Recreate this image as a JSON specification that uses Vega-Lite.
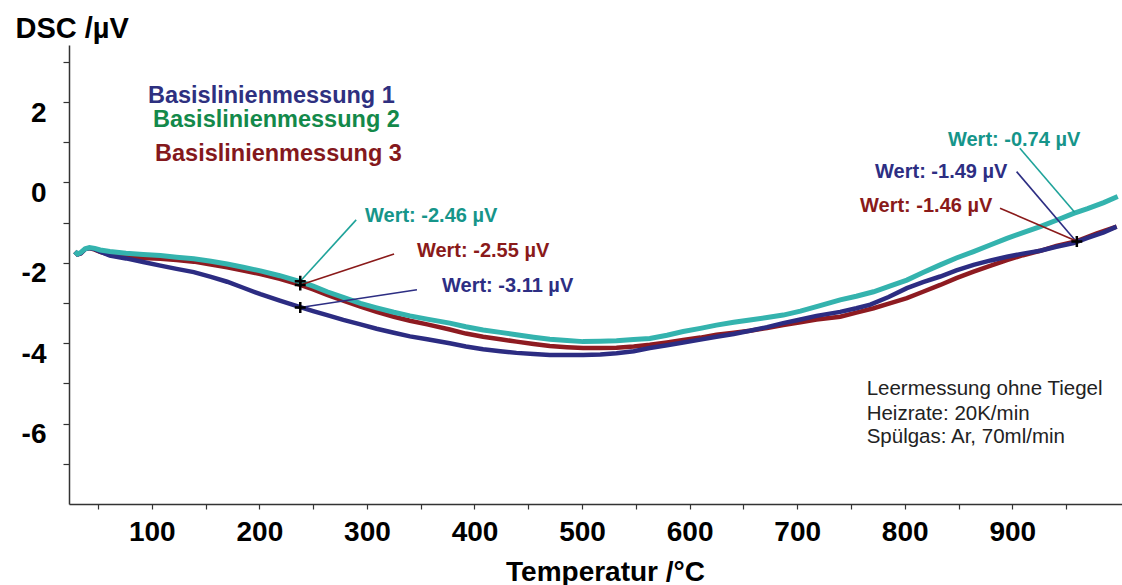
{
  "$schema": "https://vega.github.io/schema/vega-lite/v6.json",
  "width": 1053,
  "height": 459,
  "autosize": {"type": "none"},
  "padding": {"left": 69, "top": 45, "right": 0, "bottom": 81},
  "background": "white",
  "config": {"view": {"stroke": null}, "font": "Liberation Sans"},
  "datasets": {
    "curves": [
      {"T":28.5,"DSC":-1.72,"M":"1"},{"T":31,"DSC":-1.79,"M":"1"},{"T":34,"DSC":-1.76,"M":"1"},{"T":38,"DSC":-1.66,"M":"1"},{"T":42,"DSC":-1.63,"M":"1"},{"T":47,"DSC":-1.66,"M":"1"},{"T":52,"DSC":-1.72,"M":"1"},{"T":61,"DSC":-1.82,"M":"1"},{"T":76,"DSC":-1.89,"M":"1"},{"T":92,"DSC":-1.98,"M":"1"},{"T":108,"DSC":-2.07,"M":"1"},{"T":123,"DSC":-2.15,"M":"1"},{"T":139,"DSC":-2.23,"M":"1"},{"T":155,"DSC":-2.35,"M":"1"},{"T":170,"DSC":-2.47,"M":"1"},{"T":185,"DSC":-2.62,"M":"1"},{"T":201,"DSC":-2.78,"M":"1"},{"T":219,"DSC":-2.94,"M":"1"},{"T":238,"DSC":-3.10,"M":"1"},{"T":250,"DSC":-3.20,"M":"1"},{"T":263,"DSC":-3.30,"M":"1"},{"T":278,"DSC":-3.42,"M":"1"},{"T":294,"DSC":-3.53,"M":"1"},{"T":309,"DSC":-3.64,"M":"1"},{"T":325,"DSC":-3.74,"M":"1"},{"T":340,"DSC":-3.83,"M":"1"},{"T":356,"DSC":-3.90,"M":"1"},{"T":377,"DSC":-4.00,"M":"1"},{"T":392,"DSC":-4.08,"M":"1"},{"T":408,"DSC":-4.15,"M":"1"},{"T":424,"DSC":-4.20,"M":"1"},{"T":439,"DSC":-4.24,"M":"1"},{"T":455,"DSC":-4.27,"M":"1"},{"T":470,"DSC":-4.29,"M":"1"},{"T":486,"DSC":-4.29,"M":"1"},{"T":501,"DSC":-4.29,"M":"1"},{"T":517,"DSC":-4.28,"M":"1"},{"T":532,"DSC":-4.25,"M":"1"},{"T":548,"DSC":-4.20,"M":"1"},{"T":563,"DSC":-4.12,"M":"1"},{"T":579,"DSC":-4.05,"M":"1"},{"T":594,"DSC":-3.98,"M":"1"},{"T":610,"DSC":-3.91,"M":"1"},{"T":625,"DSC":-3.84,"M":"1"},{"T":641,"DSC":-3.77,"M":"1"},{"T":656,"DSC":-3.69,"M":"1"},{"T":672,"DSC":-3.60,"M":"1"},{"T":687,"DSC":-3.50,"M":"1"},{"T":703,"DSC":-3.41,"M":"1"},{"T":718,"DSC":-3.32,"M":"1"},{"T":740,"DSC":-3.22,"M":"1"},{"T":755,"DSC":-3.13,"M":"1"},{"T":768,"DSC":-3.04,"M":"1"},{"T":785,"DSC":-2.85,"M":"1"},{"T":802,"DSC":-2.63,"M":"1"},{"T":817,"DSC":-2.48,"M":"1"},{"T":833,"DSC":-2.34,"M":"1"},{"T":848,"DSC":-2.19,"M":"1"},{"T":864,"DSC":-2.05,"M":"1"},{"T":880,"DSC":-1.94,"M":"1"},{"T":895,"DSC":-1.85,"M":"1"},{"T":910,"DSC":-1.77,"M":"1"},{"T":926,"DSC":-1.70,"M":"1"},{"T":941,"DSC":-1.60,"M":"1"},{"T":957,"DSC":-1.51,"M":"1"},{"T":970,"DSC":-1.38,"M":"1"},{"T":985,"DSC":-1.24,"M":"1"},{"T":997,"DSC":-1.10,"M":"1"},
      {"T":28.5,"DSC":-1.72,"M":"3"},{"T":31,"DSC":-1.79,"M":"3"},{"T":34,"DSC":-1.76,"M":"3"},{"T":38,"DSC":-1.66,"M":"3"},{"T":42,"DSC":-1.63,"M":"3"},{"T":47,"DSC":-1.67,"M":"3"},{"T":52,"DSC":-1.73,"M":"3"},{"T":61,"DSC":-1.80,"M":"3"},{"T":76,"DSC":-1.85,"M":"3"},{"T":92,"DSC":-1.88,"M":"3"},{"T":108,"DSC":-1.90,"M":"3"},{"T":123,"DSC":-1.93,"M":"3"},{"T":139,"DSC":-1.97,"M":"3"},{"T":155,"DSC":-2.04,"M":"3"},{"T":170,"DSC":-2.11,"M":"3"},{"T":185,"DSC":-2.19,"M":"3"},{"T":201,"DSC":-2.28,"M":"3"},{"T":219,"DSC":-2.40,"M":"3"},{"T":238,"DSC":-2.55,"M":"3"},{"T":250,"DSC":-2.66,"M":"3"},{"T":263,"DSC":-2.80,"M":"3"},{"T":278,"DSC":-2.94,"M":"3"},{"T":294,"DSC":-3.09,"M":"3"},{"T":309,"DSC":-3.22,"M":"3"},{"T":325,"DSC":-3.34,"M":"3"},{"T":340,"DSC":-3.44,"M":"3"},{"T":356,"DSC":-3.53,"M":"3"},{"T":377,"DSC":-3.66,"M":"3"},{"T":392,"DSC":-3.76,"M":"3"},{"T":408,"DSC":-3.84,"M":"3"},{"T":424,"DSC":-3.90,"M":"3"},{"T":439,"DSC":-3.96,"M":"3"},{"T":455,"DSC":-4.02,"M":"3"},{"T":470,"DSC":-4.07,"M":"3"},{"T":486,"DSC":-4.10,"M":"3"},{"T":501,"DSC":-4.12,"M":"3"},{"T":517,"DSC":-4.12,"M":"3"},{"T":532,"DSC":-4.11,"M":"3"},{"T":548,"DSC":-4.08,"M":"3"},{"T":563,"DSC":-4.04,"M":"3"},{"T":579,"DSC":-3.98,"M":"3"},{"T":594,"DSC":-3.92,"M":"3"},{"T":610,"DSC":-3.86,"M":"3"},{"T":625,"DSC":-3.79,"M":"3"},{"T":641,"DSC":-3.74,"M":"3"},{"T":656,"DSC":-3.69,"M":"3"},{"T":672,"DSC":-3.62,"M":"3"},{"T":687,"DSC":-3.55,"M":"3"},{"T":703,"DSC":-3.48,"M":"3"},{"T":718,"DSC":-3.41,"M":"3"},{"T":740,"DSC":-3.34,"M":"3"},{"T":755,"DSC":-3.24,"M":"3"},{"T":771,"DSC":-3.13,"M":"3"},{"T":786,"DSC":-3.01,"M":"3"},{"T":802,"DSC":-2.88,"M":"3"},{"T":817,"DSC":-2.72,"M":"3"},{"T":833,"DSC":-2.55,"M":"3"},{"T":848,"DSC":-2.38,"M":"3"},{"T":864,"DSC":-2.22,"M":"3"},{"T":880,"DSC":-2.07,"M":"3"},{"T":895,"DSC":-1.93,"M":"3"},{"T":910,"DSC":-1.81,"M":"3"},{"T":926,"DSC":-1.70,"M":"3"},{"T":941,"DSC":-1.58,"M":"3"},{"T":960,"DSC":-1.46,"M":"3"},{"T":978,"DSC":-1.27,"M":"3"},{"T":997,"DSC":-1.10,"M":"3"},
      {"T":28.5,"DSC":-1.72,"M":"2"},{"T":31,"DSC":-1.78,"M":"2"},{"T":34,"DSC":-1.74,"M":"2"},{"T":38,"DSC":-1.65,"M":"2"},{"T":42,"DSC":-1.62,"M":"2"},{"T":47,"DSC":-1.64,"M":"2"},{"T":52,"DSC":-1.68,"M":"2"},{"T":61,"DSC":-1.72,"M":"2"},{"T":76,"DSC":-1.76,"M":"2"},{"T":92,"DSC":-1.79,"M":"2"},{"T":108,"DSC":-1.82,"M":"2"},{"T":123,"DSC":-1.86,"M":"2"},{"T":139,"DSC":-1.90,"M":"2"},{"T":155,"DSC":-1.96,"M":"2"},{"T":170,"DSC":-2.03,"M":"2"},{"T":185,"DSC":-2.11,"M":"2"},{"T":201,"DSC":-2.20,"M":"2"},{"T":219,"DSC":-2.32,"M":"2"},{"T":238,"DSC":-2.47,"M":"2"},{"T":250,"DSC":-2.58,"M":"2"},{"T":263,"DSC":-2.72,"M":"2"},{"T":278,"DSC":-2.86,"M":"2"},{"T":294,"DSC":-3.01,"M":"2"},{"T":309,"DSC":-3.12,"M":"2"},{"T":325,"DSC":-3.23,"M":"2"},{"T":340,"DSC":-3.32,"M":"2"},{"T":356,"DSC":-3.40,"M":"2"},{"T":377,"DSC":-3.50,"M":"2"},{"T":392,"DSC":-3.59,"M":"2"},{"T":408,"DSC":-3.67,"M":"2"},{"T":424,"DSC":-3.73,"M":"2"},{"T":439,"DSC":-3.79,"M":"2"},{"T":455,"DSC":-3.85,"M":"2"},{"T":470,"DSC":-3.90,"M":"2"},{"T":486,"DSC":-3.93,"M":"2"},{"T":501,"DSC":-3.96,"M":"2"},{"T":517,"DSC":-3.95,"M":"2"},{"T":532,"DSC":-3.94,"M":"2"},{"T":548,"DSC":-3.91,"M":"2"},{"T":563,"DSC":-3.88,"M":"2"},{"T":579,"DSC":-3.80,"M":"2"},{"T":594,"DSC":-3.71,"M":"2"},{"T":610,"DSC":-3.63,"M":"2"},{"T":625,"DSC":-3.55,"M":"2"},{"T":641,"DSC":-3.48,"M":"2"},{"T":656,"DSC":-3.42,"M":"2"},{"T":672,"DSC":-3.36,"M":"2"},{"T":687,"DSC":-3.30,"M":"2"},{"T":703,"DSC":-3.20,"M":"2"},{"T":718,"DSC":-3.09,"M":"2"},{"T":740,"DSC":-2.92,"M":"2"},{"T":755,"DSC":-2.83,"M":"2"},{"T":771,"DSC":-2.72,"M":"2"},{"T":786,"DSC":-2.58,"M":"2"},{"T":802,"DSC":-2.43,"M":"2"},{"T":817,"DSC":-2.24,"M":"2"},{"T":833,"DSC":-2.05,"M":"2"},{"T":848,"DSC":-1.88,"M":"2"},{"T":864,"DSC":-1.72,"M":"2"},{"T":880,"DSC":-1.55,"M":"2"},{"T":895,"DSC":-1.39,"M":"2"},{"T":910,"DSC":-1.25,"M":"2"},{"T":926,"DSC":-1.10,"M":"2"},{"T":941,"DSC":-0.94,"M":"2"},{"T":957,"DSC":-0.77,"M":"2"},{"T":970,"DSC":-0.65,"M":"2"},{"T":985,"DSC":-0.50,"M":"2"},{"T":998,"DSC":-0.35,"M":"2"}
    ],
    "leaders": [
      {"T":238,"DSC":-3.11,"T2":346.5,"DSC2":-2.67,"M":"1"},
      {"T":238,"DSC":-2.55,"T2":325.2,"DSC2":-1.78,"M":"3"},
      {"T":238,"DSC":-2.46,"T2":290,"DSC2":-0.93,"M":"2"},
      {"T":958,"DSC":-0.74,"T2":907,"DSC2":0.85,"M":"2"},
      {"T":960,"DSC":-1.49,"T2":904,"DSC2":0.27,"M":"1"},
      {"T":960,"DSC":-1.46,"T2":888.6,"DSC2":-0.64,"M":"3"}
    ],
    "crosses": [
      {"T":238,"DSC":-2.46},{"T":238,"DSC":-2.55},{"T":238,"DSC":-3.11},{"T":960,"DSC":-1.47}
    ],
    "wert": [
      {"T":298.2,"DSC":-0.83,"M":"2","text":"Wert: -2.46 µV"},
      {"T":346.5,"DSC":-1.70,"M":"3","text":"Wert: -2.55 µV"},
      {"T":369.8,"DSC":-2.575,"M":"1","text":"Wert: -3.11 µV"},
      {"T":840.2,"DSC":1.06,"M":"2","text":"Wert: -0.74 µV"},
      {"T":772.4,"DSC":0.27,"M":"1","text":"Wert: -1.49 µV"},
      {"T":758.4,"DSC":-0.585,"M":"3","text":"Wert: -1.46 µV"}
    ],
    "legend": [
      {"T":96.4,"DSC":1.985,"M":"1","text":"Basislinienmessung 1"},
      {"T":101.1,"DSC":1.373,"M":"2","text":"Basislinienmessung 2"},
      {"T":103.0,"DSC":0.542,"M":"3","text":"Basislinienmessung 3"}
    ],
    "notes": [
      {"T":764.6,"DSC":-5.29,"text":"Leermessung ohne Tiegel"},
      {"T":764.6,"DSC":-5.91,"text":"Heizrate: 20K/min"},
      {"T":764.6,"DSC":-6.49,"text":"Spülgas: Ar, 70ml/min"}
    ]
  },
  "layer": [
    {
      "data": {"name": "curves"},
      "transform": [{"filter": "datum.M == '3'"}],
      "mark": {"type": "line", "color": "#8e1b21", "strokeWidth": 4.5},
      "encoding": {
        "x": {
          "field": "T", "type": "quantitative",
          "scale": {"domain": [23, 1002], "nice": false, "zero": false},
          "axis": {
            "title": "Temperatur /°C", "titleFontSize": 28, "titleFontWeight": "bold", "titleColor": "black",
            "titleX": 536, "titleY": 76, "titleAlign": "center", "titleBaseline": "alphabetic",
            "values": [50,75,100,125,150,175,200,225,250,275,300,325,350,375,400,425,450,475,500,525,550,575,600,625,650,675,700,725,750,775,800,825,850,875,900,925,950,975],
            "labelExpr": "datum.value % 100 == 0 ? '' + datum.value : ''",
            "labelFontSize": 28, "labelFontWeight": "bold", "labelColor": "black", "labelPadding": 9,
            "labelFlush": false, "labelOverlap": false, "labelBound": false,
            "tickSize": 5, "tickColor": "#333333", "tickWidth": 1.2,
            "domainColor": "#333333", "domainWidth": 1.5, "grid": false
          }
        },
        "y": {
          "field": "DSC", "type": "quantitative",
          "scale": {"domain": [-8, 3.42], "nice": false, "zero": false},
          "axis": {
            "title": "DSC /µV", "titleFontSize": 29, "titleFontWeight": "bold", "titleColor": "black",
            "titleAngle": 0, "titleX": -54, "titleY": -8, "titleAlign": "left", "titleBaseline": "alphabetic",
            "values": [-7,-6,-5,-4,-3,-2,-1,0,1,2,3],
            "labelExpr": "datum.value % 2 == 0 ? (datum.value < 0 ? '-' + abs(datum.value) : '' + datum.value) : ''",
            "labelFontSize": 28, "labelFontWeight": "bold", "labelColor": "black", "labelPadding": 17,
            "labelBaseline": "top", "labelOffset": -3, "labelOverlap": false, "labelBound": false, "labelFlush": false,
            "tickSize": 6, "tickColor": "#333333", "tickWidth": 1.2,
            "domainColor": "#333333", "domainWidth": 1.5, "grid": false
          }
        }
      }
    },
    {
      "data": {"name": "curves"},
      "transform": [{"filter": "datum.M == '1'"}],
      "mark": {"type": "line", "color": "#2c2c82", "strokeWidth": 4.5},
      "encoding": {
        "x": {"field": "T", "type": "quantitative"},
        "y": {"field": "DSC", "type": "quantitative"}
      }
    },
    {
      "data": {"name": "curves"},
      "transform": [{"filter": "datum.M == '2'"}],
      "mark": {"type": "line", "color": "#34b3ae", "strokeWidth": 5},
      "encoding": {
        "x": {"field": "T", "type": "quantitative"},
        "y": {"field": "DSC", "type": "quantitative"}
      }
    },
    {
      "data": {"name": "leaders"},
      "mark": {"type": "rule", "strokeWidth": 1.6},
      "encoding": {
        "x": {"field": "T", "type": "quantitative"},
        "y": {"field": "DSC", "type": "quantitative"},
        "x2": {"field": "T2"},
        "y2": {"field": "DSC2"},
        "color": {"field": "M", "type": "nominal", "scale": {"domain": ["1","2","3"], "range": ["#2d2e83", "#1fa39a", "#8a1a1a"]}, "legend": null}
      }
    },
    {
      "data": {"name": "crosses"},
      "mark": {"type": "point", "shape": "M-1,0L1,0M0,-1L0,1", "filled": false, "color": "black", "strokeWidth": 2.5, "size": 120, "opacity": 1},
      "encoding": {
        "x": {"field": "T", "type": "quantitative"},
        "y": {"field": "DSC", "type": "quantitative"}
      }
    },
    {
      "data": {"name": "wert"},
      "mark": {"type": "text", "align": "left", "baseline": "middle", "fontSize": 20, "fontWeight": "bold"},
      "encoding": {
        "x": {"field": "T", "type": "quantitative"},
        "y": {"field": "DSC", "type": "quantitative"},
        "text": {"field": "text"},
        "color": {"field": "M", "type": "nominal", "scale": {"domain": ["1","2","3"], "range": ["#2d2e83", "#16958a", "#8a1a1a"]}, "legend": null}
      }
    },
    {
      "data": {"name": "legend"},
      "mark": {"type": "text", "align": "left", "baseline": "alphabetic", "fontSize": 23.5, "fontWeight": "bold"},
      "encoding": {
        "x": {"field": "T", "type": "quantitative"},
        "y": {"field": "DSC", "type": "quantitative"},
        "text": {"field": "text"},
        "color": {"field": "M", "type": "nominal", "scale": {"domain": ["1","2","3"], "range": ["#2e3080", "#13894a", "#84181c"]}, "legend": null}
      }
    },
    {
      "data": {"name": "notes"},
      "mark": {"type": "text", "align": "left", "baseline": "alphabetic", "fontSize": 20.5, "color": "#222222"},
      "encoding": {
        "x": {"field": "T", "type": "quantitative"},
        "y": {"field": "DSC", "type": "quantitative"},
        "text": {"field": "text"}
      }
    }
  ],
  "resolve": {"scale": {"color": "independent"}}
}
